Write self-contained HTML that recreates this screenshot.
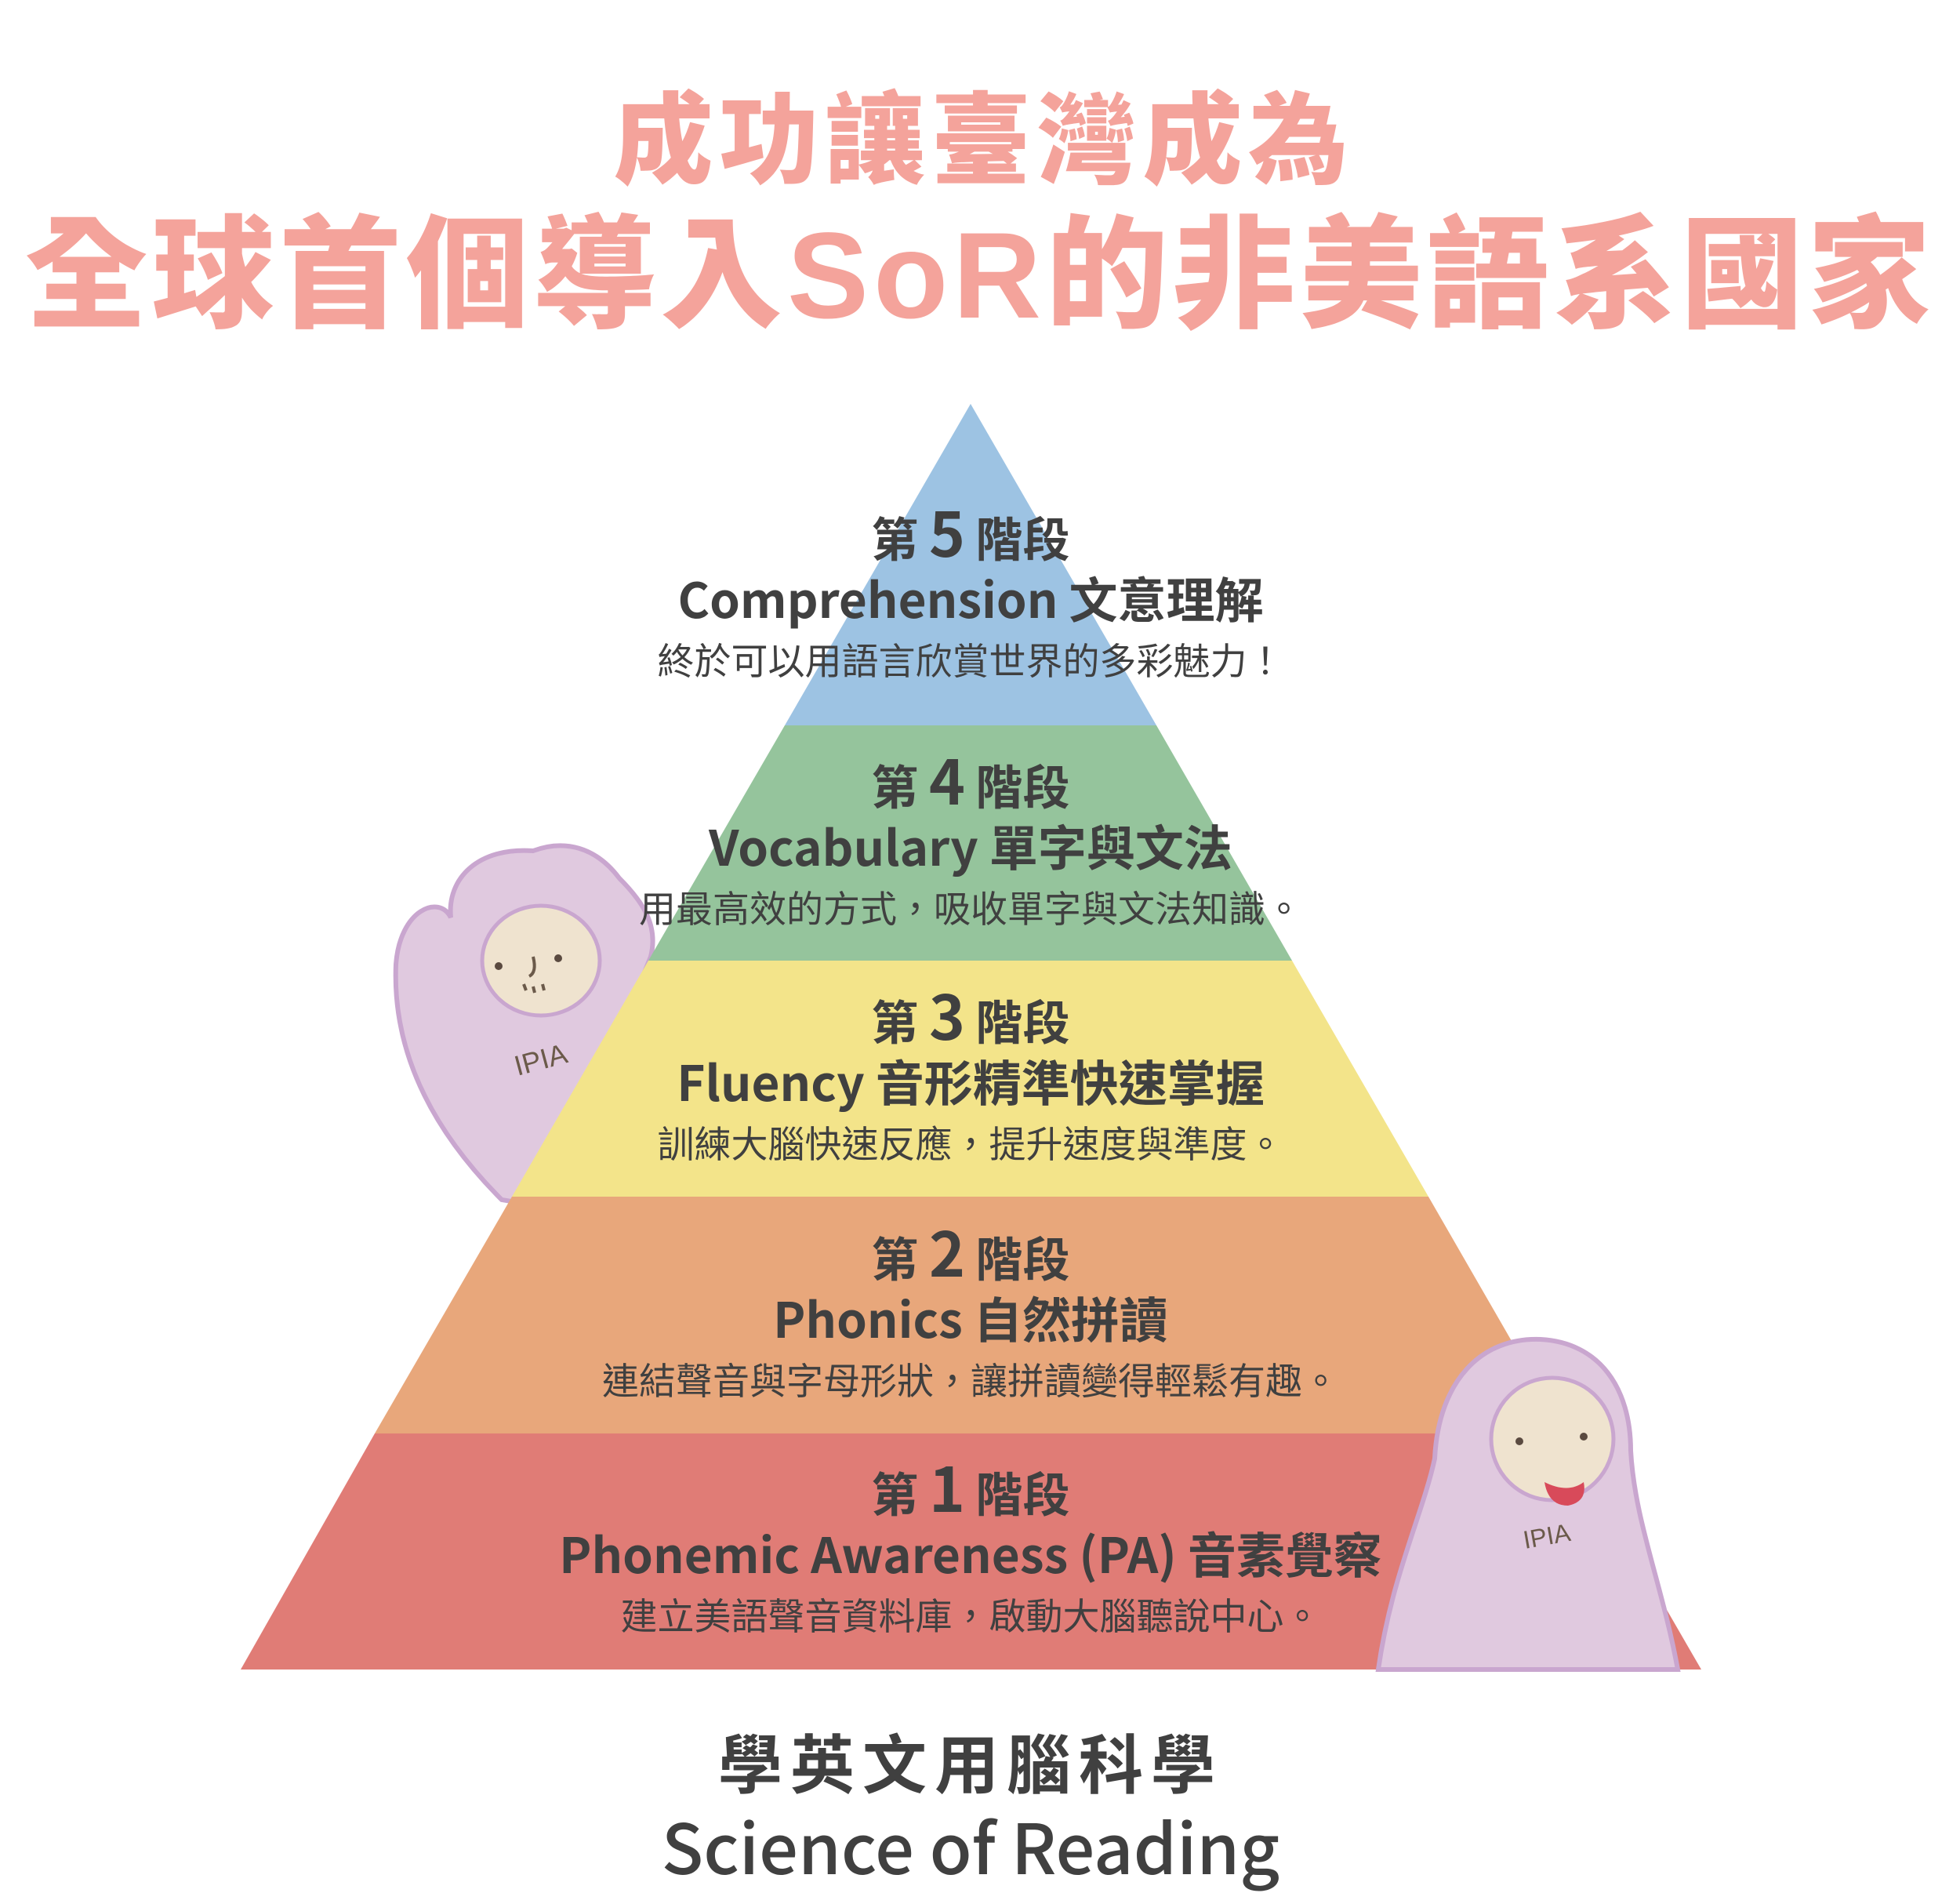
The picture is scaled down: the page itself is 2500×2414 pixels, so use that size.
<!DOCTYPE html>
<html><head><meta charset="utf-8"><style>
html,body{margin:0;padding:0;background:#fff}
svg{display:block}
text{font-family:"Noto Sans CJK TC","Liberation Sans",sans-serif}
.t{font-family:"Liberation Sans","Noto Sans CJK TC",sans-serif}
</style></head><body>
<svg width="2500" height="2414" viewBox="0 0 2500 2414" xmlns="http://www.w3.org/2000/svg">
<rect width="2500" height="2414" fill="#fff"/>
<text class="t" x="1255" y="224" text-anchor="middle" font-size="127" font-weight="900" fill="#f4a39b" letter-spacing="8">成功讓臺灣成為</text>
<text class="t" x="1250" y="405" text-anchor="middle" font-size="156" font-weight="900" fill="#f4a39b" letter-spacing="6">全球首個導入SoR的非美語系國家</text>

<g>
<path d="M640 1530 C560 1450 500 1350 505 1230 C510 1160 560 1140 575 1170 C570 1120 610 1080 680 1085 C720 1070 760 1080 790 1120 C820 1150 840 1180 830 1220 L700 1540 Z" fill="#e0c9df" stroke="#c9a6cf" stroke-width="6"/>
<ellipse cx="690" cy="1225" rx="75" ry="70" fill="#efe3cf" stroke="#c9a6cf" stroke-width="5"/>
<circle cx="636" cy="1232" r="5" fill="#5a4a40"/><circle cx="712" cy="1222" r="5" fill="#5a4a40"/>
<path d="M680 1220 q5 20 -5 25 M668 1255 l3 8 M680 1258 l2 8 M692 1255 l2 8" stroke="#6b5a4a" stroke-width="4" fill="none"/>
<text class="t" x="660" y="1372" font-size="36" fill="#6b5a4a" transform="rotate(-15 660 1372)">IPIA</text>
</g>

<polygon points="1238,515 1475,925 1001,925" fill="#9dc3e3"/>
<polygon points="1001,925 1475,925 1648,1225 827,1225" fill="#95c49c"/>
<polygon points="827,1225 1648,1225 1822,1526 653,1526" fill="#f3e48a"/>
<polygon points="653,1526 1822,1526 1996,1828 478,1828" fill="#e8a77b"/>
<polygon points="478,1828 1996,1828 2170,2129 307,2129" fill="#e07c76"/>

<g fill="#404040" text-anchor="middle" font-weight="bold">
<text x="1238" y="710" font-size="60">第 <tspan font-size="78">5</tspan> 階段</text>
<text x="1238" y="788" font-size="62">Comprehension 文意理解</text>
<text x="1238" y="860" font-size="47" font-weight="normal">終於可以用語言欣賞世界的多彩魅力！</text>
<text x="1238" y="1026" font-size="60">第 <tspan font-size="78">4</tspan> 階段</text>
<text x="1238" y="1104" font-size="62">Vocabulary 單字與文法</text>
<text x="1238" y="1176" font-size="47" font-weight="normal">用最高效的方式，吸收單字與文法知識。</text>
<text x="1238" y="1326" font-size="60">第 <tspan font-size="78">3</tspan> 階段</text>
<text x="1238" y="1404" font-size="62">Fluency 音形精準快速掌握</text>
<text x="1238" y="1476" font-size="47" font-weight="normal">訓練大腦快速反應，提升速度與準度。</text>
<text x="1238" y="1628" font-size="60">第 <tspan font-size="78">2</tspan> 階段</text>
<text x="1238" y="1706" font-size="62">Phonics 自然拼讀</text>
<text x="1238" y="1778" font-size="47" font-weight="normal">連結聲音與字母形狀，讓拼讀變得輕鬆有趣。</text>
<text x="1238" y="1928" font-size="60">第 <tspan font-size="78">1</tspan> 階段</text>
<text x="1238" y="2006" font-size="62">Phonemic Awareness (PA) 音素覺察</text>
<text x="1238" y="2078" font-size="47" font-weight="normal">建立美語聲音資料庫，啟動大腦聽說中心。</text>
</g>

<g>
<path d="M1758 2129 C1775 2010 1815 1930 1830 1860 C1835 1760 1890 1705 1965 1708 C2040 1712 2080 1770 2080 1850 C2085 1940 2120 2020 2140 2129 Z" fill="#e0c9df" stroke="#c9a6cf" stroke-width="6"/>
<ellipse cx="1980" cy="1835" rx="78" ry="78" fill="#efe3cf" stroke="#c9a6cf" stroke-width="5"/>
<circle cx="1938" cy="1838" r="5" fill="#5a4a40"/><circle cx="2020" cy="1832" r="5" fill="#5a4a40"/>
<path d="M1970 1890 q30 15 50 0 q5 25 -20 30 q-25 0 -30 -30z" fill="#d84a5a"/>
<text class="t" x="1945" y="1975" font-size="32" fill="#6b5a4a" transform="rotate(-10 1945 1975)">IPIA</text>
</g>

<text x="1238" y="2280" text-anchor="middle" font-size="82" font-weight="bold" fill="#404040" letter-spacing="10">學英文用腦科學</text>
<text x="1238" y="2390" text-anchor="middle" font-size="88" font-weight="500" fill="#404040">Science of Reading</text>
</svg>
</body></html>
